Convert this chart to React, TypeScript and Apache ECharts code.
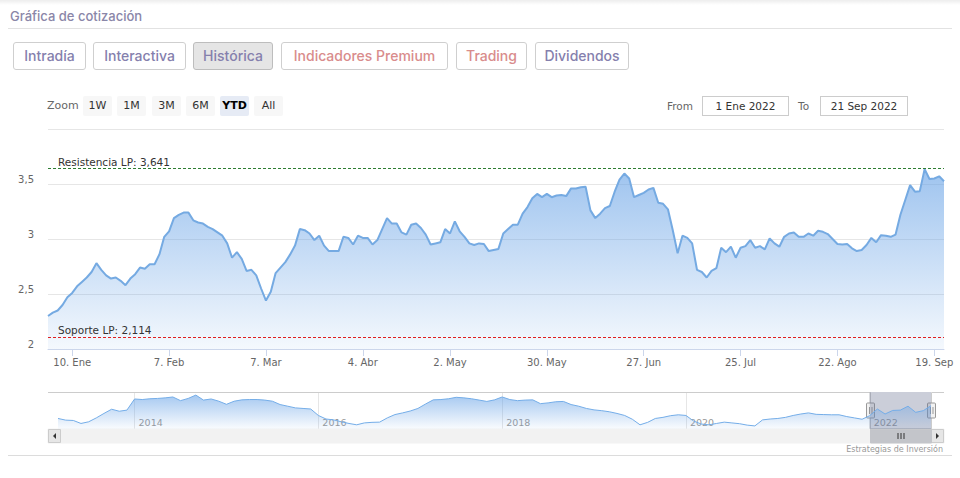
import React, { useEffect, useRef } from "react";
import * as echarts from "echarts";

// ---------- data ----------
const MONTHS_ES = ["Ene", "Feb", "Mar", "Abr", "May", "Jun", "Jul", "Ago", "Sep", "Oct", "Nov", "Dic"];
const START_DATE = "2022-01-03";
const END_DATE = "2022-09-21";
const HOLIDAYS = ["2022-04-15", "2022-04-18"];
const TICK_DATES = [
  "2022-01-10", "2022-02-07", "2022-03-07", "2022-04-04", "2022-05-02",
  "2022-05-30", "2022-06-27", "2022-07-25", "2022-08-22", "2022-09-19",
];

const PRICES_JAN = [2.30, 2.33, 2.35, 2.40, 2.47, 2.51, 2.57, 2.61, 2.65, 2.70, 2.78, 2.72, 2.67, 2.64, 2.65, 2.62, 2.58, 2.64, 2.68, 2.74, 2.73];
const PRICES_FEB = [2.77, 2.77, 2.86, 3.02, 3.07, 3.19, 3.22, 3.24, 3.24, 3.17, 3.15, 3.14, 3.11, 3.09, 3.06, 3.03, 2.96, 2.83, 2.88, 2.82];
const PRICES_MAR = [2.71, 2.72, 2.67, 2.55, 2.44, 2.52, 2.69, 2.74, 2.79, 2.86, 2.94, 3.09, 3.08, 3.05, 2.99, 3.03, 2.94, 2.89, 2.89, 2.89, 3.02, 3.01, 2.95];
const PRICES_APR = [3.03, 3.01, 3.01, 2.95, 2.99, 3.09, 3.19, 3.14, 3.14, 3.06, 3.04, 3.13, 3.14, 3.10, 3.04, 2.95, 2.96, 2.97, 3.09];
const PRICES_MAY = [3.05, 3.16, 3.07, 3.02, 2.96, 2.945, 2.96, 2.955, 2.89, 2.90, 2.91, 3.05, 3.09, 3.13, 3.13, 3.23, 3.29, 3.37, 3.41, 3.38, 3.41, 3.38];
const PRICES_JUN = [3.395, 3.40, 3.39, 3.46, 3.46, 3.47, 3.475, 3.26, 3.19, 3.23, 3.28, 3.30, 3.43, 3.54, 3.595, 3.55, 3.38, 3.40, 3.42, 3.45, 3.465, 3.33];
const PRICES_JUL = [3.32, 3.27, 3.08, 2.87, 3.03, 3.01, 2.96, 2.72, 2.70, 2.65, 2.71, 2.735, 2.92, 2.88, 2.93, 2.83, 2.92, 2.935, 2.99, 2.92, 2.935];
const PRICES_AUG = [2.905, 3.005, 2.96, 2.93, 3.02, 3.05, 3.06, 3.02, 3.02, 3.05, 3.03, 3.075, 3.065, 3.045, 3.00, 2.955, 2.95, 2.955, 2.915, 2.89, 2.90, 2.945, 3.01];
const PRICES_SEP = [2.97, 3.035, 3.03, 3.02, 3.04, 3.22, 3.355, 3.49, 3.43, 3.435, 3.635, 3.545, 3.55, 3.57, 3.525];

const RESISTANCE = 3.641;
const SUPPORT = 2.114;
const Y_MIN = 2;
const Y_MAX = 4;
const Y_STEP = 0.5;

const NAV_START = "2013-03";
const NAV_END = "2022-09";
const NAV_2013 = [2.30, 2.15, 2.12, 1.85, 2.00, 2.35, 2.75, 3.13, 2.95, 3.05];
const NAV_2014 = [4.05, 4.00, 4.07, 4.10, 4.15, 4.23, 3.90, 4.10, 4.40, 3.95, 4.05, 3.85];
const NAV_2015 = [3.57, 3.85, 3.97, 4.00, 4.00, 3.95, 3.85, 3.55, 3.40, 3.25, 3.20, 3.15];
const NAV_2016 = [2.57, 2.25, 2.17, 2.00, 1.85, 1.73, 1.90, 1.95, 1.97, 2.35, 2.65, 2.80];
const NAV_2017 = [2.97, 3.20, 3.60, 3.97, 4.00, 4.07, 4.20, 4.15, 4.07, 3.95, 3.83, 3.97];
const NAV_2018 = [4.23, 4.00, 3.90, 3.95, 3.97, 3.63, 3.70, 3.80, 3.83, 3.55, 3.40, 3.20];
const NAV_2019 = [3.07, 3.00, 2.90, 2.75, 2.57, 2.23, 1.73, 1.95, 2.30, 2.40, 2.55, 2.63];
const NAV_2020 = [2.57, 2.07, 1.80, 1.73, 1.85, 1.97, 1.90, 1.83, 1.70, 1.63, 2.17, 2.25];
const NAV_2021 = [2.30, 2.40, 2.57, 2.70, 2.80, 2.67, 2.65, 2.63, 2.63, 2.47, 2.35, 2.23];
const NAV_2022 = [2.55, 3.15, 2.70, 3.02, 3.05, 3.40, 2.85, 3.00, 3.45];
const NAV_LABEL_YEARS = [2014, 2016, 2018, 2020, 2022];
const SELECTED_FROM = "2022-01";
const SELECTED_TO = "2022-09";

const TABS = ["Intradía", "Interactiva", "Histórica", "Indicadores Premium", "Trading", "Dividendos"];
const TAB_KIND = ["p", "p", "active", "r", "r", "p"];
const ZOOM_BUTTONS = ["1W", "1M", "3M", "6M", "YTD", "All"];
const ZOOM_ACTIVE = "YTD";
const FROM_TEXT = "1 Ene 2022";
const TO_TEXT = "21 Sep 2022";

// ---------- derived ----------
const PRICES = [
  ...PRICES_JAN, ...PRICES_FEB, ...PRICES_MAR, ...PRICES_APR, ...PRICES_MAY,
  ...PRICES_JUN, ...PRICES_JUL, ...PRICES_AUG, ...PRICES_SEP,
];
const NAV_VALUES = [
  ...NAV_2013, ...NAV_2014, ...NAV_2015, ...NAV_2016, ...NAV_2017,
  ...NAV_2018, ...NAV_2019, ...NAV_2020, ...NAV_2021, ...NAV_2022,
];

function tradingDays(): string[] {
  const out: string[] = [];
  const d = new Date(START_DATE + "T00:00:00Z");
  const end = new Date(END_DATE + "T00:00:00Z");
  while (d <= end) {
    const wd = d.getUTCDay();
    const s = d.toISOString().slice(0, 10);
    if (wd !== 0 && wd !== 6 && HOLIDAYS.indexOf(s) < 0) out.push(s);
    d.setUTCDate(d.getUTCDate() + 1);
  }
  return out;
}
function monthList(from: string, to: string): string[] {
  const out: string[] = [];
  let [y, m] = from.split("-").map(Number);
  const [ty, tm] = to.split("-").map(Number);
  while (y < ty || (y === ty && m <= tm)) {
    out.push(`${y}-${String(m).padStart(2, "0")}`);
    m++;
    if (m > 12) { m = 1; y++; }
  }
  return out;
}
const DAYS = tradingDays();
const NAV_MONTHS = monthList(NAV_START, NAV_END);

const dec = (v: number) => String(v).replace(".", ",");
const fmtDay = (s: string) => `${Number(s.slice(8, 10))}. ${MONTHS_ES[Number(s.slice(5, 7)) - 1]}`;
const CHART_FONT = "'DejaVu Sans', Verdana, sans-serif";
const UI_FONT = "Inter, 'Noto Sans', sans-serif";

export default function App() {
  const ref = useRef<HTMLDivElement>(null);

  useEffect(() => {
    if (!ref.current) return;
    const chart = echarts.init(ref.current, null, { renderer: "svg" });
    const navMinV = Math.min(...NAV_VALUES);
    const navMaxV = Math.max(...NAV_VALUES);
    const pad = (navMaxV - navMinV) * 0.1;
    const tickFn = (_i: number, v: string) => TICK_DATES.indexOf(v) >= 0;
    const navFn = (_i: number, v: string) =>
      v.slice(5) === "01" && NAV_LABEL_YEARS.indexOf(Number(v.slice(0, 4))) >= 0;

    const option: any = {
      animation: false,
      textStyle: { fontFamily: CHART_FONT },
      grid: [
        { left: 48, right: 16, top: 129, height: 220 },
        { left: 58, right: 29, top: 392, height: 37 },
      ],
      xAxis: [
        {
          type: "category", gridIndex: 0, data: DAYS, boundaryGap: false,
          axisLine: { lineStyle: { color: "#ccd6eb" } },
          axisTick: { interval: tickFn, length: 7, lineStyle: { color: "#ccd6eb" } },
          axisLabel: { interval: tickFn, formatter: fmtDay, color: "#666", fontSize: 10, margin: 8, fontFamily: CHART_FONT },
          splitLine: { show: false },
        },
        {
          type: "category", gridIndex: 1, data: NAV_MONTHS, boundaryGap: false,
          axisLine: { show: false }, axisTick: { show: false },
          axisLabel: {
            inside: true, interval: navFn, formatter: (v: string) => v.slice(0, 4),
            color: "#999", fontSize: 9.5, align: "left", margin: 2, padding: [0, 0, 0, 4], fontFamily: CHART_FONT,
          },
          splitLine: { show: true, interval: navFn, lineStyle: { color: "#e6e6e6" } },
        },
      ],
      yAxis: [
        {
          type: "value", gridIndex: 0, min: Y_MIN, max: Y_MAX, interval: Y_STEP,
          axisLine: { show: false }, axisTick: { show: false },
          axisLabel: {
            formatter: (v: number) => dec(v), color: "#666", fontSize: 10, margin: 14,
            verticalAlign: "bottom", showMaxLabel: false, fontFamily: CHART_FONT,
          },
          splitLine: { lineStyle: { color: "#e6e6e6" } },
        },
        { type: "value", gridIndex: 1, min: navMinV - pad, max: navMaxV + pad, show: false },
      ],
      series: [
        {
          type: "line", xAxisIndex: 0, yAxisIndex: 0, data: PRICES, symbol: "none", silent: true,
          lineStyle: { color: "#75aae2", width: 2 },
          areaStyle: {
            color: new echarts.graphic.LinearGradient(0, 0, 0, 1, [
              { offset: 0, color: "rgba(105,163,230,0.92)" },
              { offset: 1, color: "rgba(105,163,230,0.1)" },
            ]),
          },
          markLine: {
            silent: true, symbol: "none", animation: false,
            data: [
              {
                yAxis: RESISTANCE,
                lineStyle: { color: "#2e7d32", type: [3, 2], width: 1 },
                label: { formatter: "Resistencia LP: " + dec(RESISTANCE), position: "insideStartTop", distance: 1, padding: [0, 0, 0, 9], color: "#333", fontSize: 10.5, fontFamily: CHART_FONT },
              },
              {
                yAxis: SUPPORT,
                lineStyle: { color: "#e02020", type: [3, 2], width: 1 },
                label: { formatter: "Soporte LP: " + dec(SUPPORT), position: "insideStartTop", distance: 1, padding: [0, 0, 0, 9], color: "#333", fontSize: 10.5, fontFamily: CHART_FONT },
              },
            ],
          },
        },
        {
          type: "line", xAxisIndex: 1, yAxisIndex: 1, data: NAV_VALUES, symbol: "none", silent: true,
          lineStyle: { color: "#74ade8", width: 1 },
          areaStyle: {
            color: new echarts.graphic.LinearGradient(0, 0, 0, 1, [
              { offset: 0, color: "rgba(105,163,230,0.85)" },
              { offset: 1, color: "rgba(105,163,230,0.05)" },
            ]),
          },
          markArea: {
            silent: true,
            itemStyle: { color: "rgba(105,115,145,0.35)" },
            data: [[{ xAxis: SELECTED_FROM }, { xAxis: SELECTED_TO }]],
          },
        },
      ],
    };
    chart.setOption(option);

    let xL = chart.convertToPixel({ xAxisIndex: 1 }, SELECTED_FROM) as any;
    let xR = chart.convertToPixel({ xAxisIndex: 1 }, SELECTED_TO) as any;
    if (!isFinite(xL)) xL = chart.convertToPixel({ xAxisIndex: 1 }, NAV_MONTHS.indexOf(SELECTED_FROM)) as any;
    if (!isFinite(xR)) xR = chart.convertToPixel({ xAxisIndex: 1 }, NAV_MONTHS.indexOf(SELECTED_TO)) as any;
    xL = Math.round(xL) + 0.5;
    xR = Math.round(xR) + 0.5;

    const sbY = 429, sbH = 14, navTop = 392.5, navBottom = 429;
    const handle = (x: number) => ({
      type: "group", silent: true,
      children: [
        { type: "rect", shape: { x: x - 4, y: 403, width: 8, height: 15, r: 1 }, style: { fill: "#f2f2f2", stroke: "#999", lineWidth: 1 } },
        { type: "line", shape: { x1: x - 1, y1: 407, x2: x - 1, y2: 414 }, style: { stroke: "#999", lineWidth: 1 } },
        { type: "line", shape: { x1: x + 1.5, y1: 407, x2: x + 1.5, y2: 414 }, style: { stroke: "#999", lineWidth: 1 } },
      ],
    });
    const cx = (xL + xR) / 2;
    chart.setOption({
      graphic: [
        { type: "rect", silent: true, shape: { x: 48, y: sbY, width: 896, height: sbH }, style: { fill: "#f2f2f2", stroke: "#f2f2f2" } },
        { type: "rect", silent: true, shape: { x: 48.5, y: sbY + 0.5, width: 12, height: sbH - 1 }, style: { fill: "#e6e6e6", stroke: "#cccccc" } },
        { type: "polygon", silent: true, shape: { points: [[56, 433], [56, 439], [53, 436]] }, style: { fill: "#333" } },
        { type: "rect", silent: true, shape: { x: 931.5, y: sbY + 0.5, width: 12, height: sbH - 1 }, style: { fill: "#e6e6e6", stroke: "#cccccc" } },
        { type: "polygon", silent: true, shape: { points: [[936, 433], [936, 439], [939, 436]] }, style: { fill: "#333" } },
        { type: "rect", silent: true, shape: { x: xL, y: sbY, width: xR - xL, height: sbH }, style: { fill: "#c3c5ca", stroke: "#c3c5ca" } },
        { type: "line", silent: true, shape: { x1: cx - 3, y1: 433, x2: cx - 3, y2: 439 }, style: { stroke: "#333", lineWidth: 1 } },
        { type: "line", silent: true, shape: { x1: cx, y1: 433, x2: cx, y2: 439 }, style: { stroke: "#333", lineWidth: 1 } },
        { type: "line", silent: true, shape: { x1: cx + 3, y1: 433, x2: cx + 3, y2: 439 }, style: { stroke: "#333", lineWidth: 1 } },
        {
          type: "polyline", silent: true,
          shape: { points: [[48, navTop], [xL, navTop], [xL, navBottom], [xR, navBottom], [xR, navTop], [944, navTop]] },
          style: { stroke: "#cccccc", fill: null, lineWidth: 1 },
        },
        handle(xL),
        handle(xR),
        {
          type: "text", silent: true, x: 943, y: 449,
          style: { text: "Estrategias de Inversión", fill: "#999", fontSize: 8, fontFamily: CHART_FONT, align: "right", verticalAlign: "middle" },
        },
      ],
    });
    return () => chart.dispose();
  }, []);

  const tabLefts = [13, 93, 193, 281, 456, 535];
  const tabWidths = [73, 93, 80, 167, 71, 94];
  const zoomLefts = [83, 117, 152, 186, 220, 254];

  return (
    <div style={{ position: "relative", width: 960, height: 478, background: "#fff", overflow: "hidden" }}>
      <style>{`body{margin:0}`}</style>
      <div ref={ref} style={{ position: "absolute", left: 0, top: 0, width: 960, height: 478 }} />
      <div style={{ position: "absolute", left: 0, top: 0, width: 960, height: 5, background: "linear-gradient(rgba(0,0,0,0.07), rgba(0,0,0,0))" }} />
      <div style={{ position: "absolute", left: 10, top: 6, height: 20, lineHeight: "20px", fontFamily: UI_FONT, fontSize: 13, fontWeight: 500, color: "#8a86a8" }}>
        Gráfica de cotización
      </div>
      <div style={{ position: "absolute", left: 8, top: 28, width: 944, height: 1, background: "#e2e2e2" }} />
      {TABS.map((t, i) => {
        const kind = TAB_KIND[i];
        return (
          <div key={t} style={{
            position: "absolute", left: tabLefts[i], top: 42, width: tabWidths[i], height: 28, boxSizing: "border-box",
            border: "1px solid " + (kind === "active" ? "#bdbdbd" : "#cfcfcf"), borderRadius: 3,
            background: kind === "active" ? "#e5e5e5" : "#fff",
            color: kind === "r" ? "#d98c8c" : "#8580ad",
            fontFamily: UI_FONT, fontSize: 14, fontWeight: 500, lineHeight: "26px", textAlign: "center",
          }}>{t}</div>
        );
      })}
      <div style={{ position: "absolute", left: 47, top: 96, height: 20, lineHeight: "20px", fontFamily: CHART_FONT, fontSize: 11, color: "#666" }}>Zoom</div>
      {ZOOM_BUTTONS.map((b, i) => (
        <div key={b} style={{
          position: "absolute", left: zoomLefts[i], top: 96, width: 29, height: 20, lineHeight: "20px", textAlign: "center",
          background: b === ZOOM_ACTIVE ? "#e6ebf5" : "#f7f7f7", borderRadius: 2,
          fontFamily: CHART_FONT, fontSize: 11, color: b === ZOOM_ACTIVE ? "#000" : "#333", fontWeight: b === ZOOM_ACTIVE ? 700 : 400,
        }}>{b}</div>
      ))}
      <div style={{ position: "absolute", left: 667, top: 96, height: 20, lineHeight: "20px", fontFamily: CHART_FONT, fontSize: 10.5, color: "#666" }}>From</div>
      <div style={{ position: "absolute", left: 702, top: 96, width: 87, height: 20, boxSizing: "border-box", border: "1px solid #cccccc", lineHeight: "18px", textAlign: "center", fontFamily: CHART_FONT, fontSize: 10.5, color: "#333" }}>{FROM_TEXT}</div>
      <div style={{ position: "absolute", left: 798, top: 96, height: 20, lineHeight: "20px", fontFamily: CHART_FONT, fontSize: 10.5, color: "#666" }}>To</div>
      <div style={{ position: "absolute", left: 820, top: 96, width: 88, height: 20, boxSizing: "border-box", border: "1px solid #cccccc", lineHeight: "18px", textAlign: "center", fontFamily: CHART_FONT, fontSize: 10.5, color: "#333" }}>{TO_TEXT}</div>
      <div style={{ position: "absolute", left: 8, top: 455, width: 944, height: 1, background: "#dcdcdc" }} />
    </div>
  );
}
